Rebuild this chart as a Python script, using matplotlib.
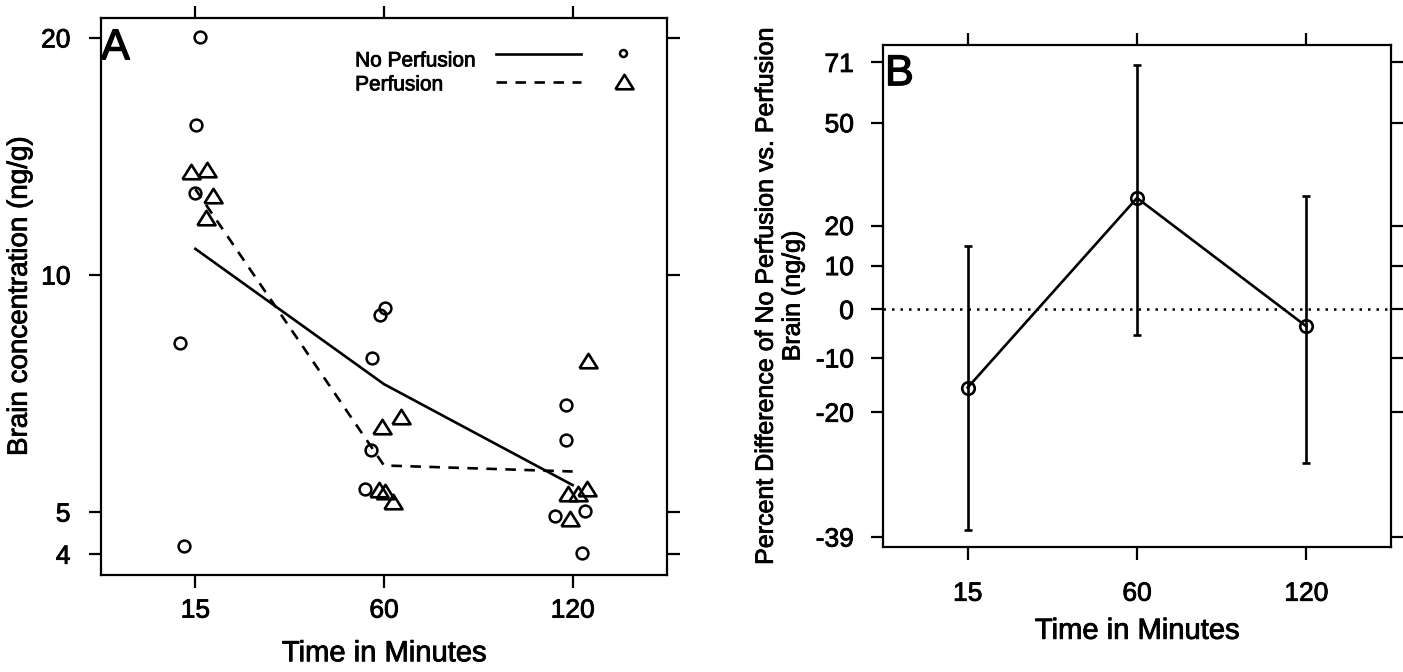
import numpy as np
import matplotlib
matplotlib.use("Agg")
import matplotlib.pyplot as plt
import matplotlib.patheffects as pe

plt.rcParams['font.family'] = ['Liberation Sans', 'DejaVu Sans']

# ---- panel A data (brain concentration, ng/g) ----
time_labels = ["15", "60", "120"]

# no perfusion (circles): group index, jitter, value
np_group = [1, 1, 1, 1, 1, 2, 2, 2, 2, 2, 3, 3, 3, 3, 3]
np_jitter = [0.027, 0.005, 0.0, -0.08, -0.06,
             0.003, -0.02, -0.064, -0.07, -0.10,
             -0.037, -0.037, 0.064, -0.095, 0.048]
np_conc = [20.05, 15.5, 12.7, 8.2, 4.53,
           9.07, 8.9, 7.84, 5.99, 5.35,
           6.84, 6.17, 5.01, 4.95, 4.43]

# perfusion (triangles)
p_group = [1, 1, 1, 1, 2, 2, 2, 2, 2, 3, 3, 3, 3, 3]
p_jitter = [-0.021, 0.064, 0.095, 0.058,
            0.088, -0.013, -0.024, 0.003, 0.05,
            0.08, -0.027, 0.027, 0.074, -0.016]
p_conc = [13.5, 13.6, 12.6, 11.8,
          6.6, 6.41, 5.34, 5.31, 5.15,
          7.77, 5.27, 5.27, 5.35, 4.9]

a_ticks = [4.42, 5, 10, 20]
a_ticklabels = ["4", "5", "10", "20"]

# ---- panel B data (percent difference) ----
b_diff = [-15.6, 27.4, -3.6]
b_lo = [-38.1, -5.4, -28.4]
b_hi = [14.8, 70.0, 28.0]
b_ticks = [-39, -20, -10, 0, 10, 20, 50, 71]


def geo_mean(groups, vals, g):
    v = np.array([x for gg, x in zip(groups, vals) if gg == g])
    return np.exp(np.mean(np.log(v)))


tri = [(-1, -0.75), (1, -0.75), (0, 0.85), (-1, -0.75)]
LW = 1.9
thick = [pe.withStroke(linewidth=0.6, foreground='black')]

fig = plt.figure(figsize=(14.03, 6.72), dpi=100)
W, H = 1403, 672
axA = fig.add_axes([101 / W, 1 - 575 / H, 566 / W, 557 / H])
axB = fig.add_axes([883 / W, 1 - 547 / H, 508 / W, 502 / H])

# ---- panel A ----
xs = np.arange(1, 4)
axA.plot(np.array(np_group) + np.array(np_jitter), np_conc, 'o', ms=8.5,
         mfc='none', mec='black', mew=1.8)
axA.plot(np.array(p_group) + np.array(p_jitter), p_conc, ls='none', marker=tri,
         ms=13, mfc='none', mec='black', mew=1.9)
np_mean = [geo_mean(np_group, np_conc, g) for g in xs]
p_mean = [geo_mean(p_group, p_conc, g) for g in xs]
axA.plot(xs, np_mean, '-', color='black', lw=LW)
axA.plot(xs, p_mean, color='black', lw=LW, ls=(0, (4, 3.2)))

axA.set_yscale('log')
axA.set_ylim(4.16, 21.2)
axA.set_xlim(0.5, 3.5)
axA.set_yticks(a_ticks)
axA.set_yticklabels(a_ticklabels)
axA.yaxis.set_minor_locator(matplotlib.ticker.NullLocator())
axA.set_xticks(xs)
axA.set_xticklabels(time_labels)
axA.set_xlabel("Time in Minutes", fontsize=21, labelpad=12, path_effects=thick)
axA.set_ylabel("Brain concentration (ng/g)", fontsize=20, labelpad=6, path_effects=thick)
axA.text(0.0, 0.926, "A", transform=axA.transAxes, fontsize=31, va='baseline', ha='left',
         path_effects=[pe.withStroke(linewidth=1.0, foreground='black')])

# legend drawn by hand
axA.text(0.449, 0.923, "No Perfusion", transform=axA.transAxes, fontsize=15, va='center',
         path_effects=thick)
axA.text(0.449, 0.880, "Perfusion", transform=axA.transAxes, fontsize=15, va='center',
         path_effects=thick)
axA.plot([0.698, 0.848], [0.935, 0.935], transform=axA.transAxes, color='black', lw=LW)
axA.plot([0.698, 0.848], [0.885, 0.885], transform=axA.transAxes, color='black', lw=LW,
         ls=(0, (4, 3.2)))
axA.plot([0.922], [0.937], 'o', transform=axA.transAxes, ms=5, mfc='none', mec='black', mew=1.8)
axA.plot([0.924], [0.885], ls='none', marker=tri, transform=axA.transAxes, ms=13,
         mfc='none', mec='black', mew=1.9)

# ---- panel B ----
fwd = lambda p: np.log10(1 + np.asarray(p) / 100.0)
inv = lambda t: 100.0 * (10 ** np.asarray(t) - 1)
axB.set_yscale('function', functions=(fwd, inv))
axB.axhline(0, color='black', lw=1.8, ls=(0, (1.0, 2.4)))
yerr = [np.array(b_diff) - np.array(b_lo), np.array(b_hi) - np.array(b_diff)]
axB.errorbar(xs, b_diff, yerr=yerr, fmt='-o', color='black', lw=LW, ms=9,
             mfc='none', mec='black', mew=1.9, capsize=3, capthick=LW, elinewidth=LW)
axB.set_ylim(-40.3, 77.6)
axB.set_xlim(0.5, 3.5)
axB.set_yticks(b_ticks)
axB.set_yticklabels([str(t) for t in b_ticks])
axB.yaxis.set_minor_locator(matplotlib.ticker.NullLocator())
axB.set_xticks(xs)
axB.set_xticklabels(time_labels)
axB.set_xlabel("Time in Minutes", fontsize=21, labelpad=8, path_effects=thick)
axB.set_ylabel("Percent Difference of No Perfusion vs. Perfusion\nBrain (ng/g)",
               fontsize=18, linespacing=1.15, labelpad=8, path_effects=thick)
axB.text(0.004, 0.920, "B", transform=axB.transAxes, fontsize=31, va='baseline', ha='left',
         path_effects=[pe.withStroke(linewidth=1.0, foreground='black')])

for ax in (axA, axB):
    for s in ax.spines.values():
        s.set_linewidth(1.6)
    ax.tick_params(direction='out', length=9, width=1.6, top=True, right=True,
                   labeltop=False, labelright=False, labelsize=19)
    for lab in ax.get_xticklabels() + ax.get_yticklabels():
        lab.set_path_effects(thick)
axA.tick_params(axis='y', pad=13)
axA.tick_params(axis='x', pad=8)
axB.tick_params(axis='y', pad=12)
axB.tick_params(axis='x', pad=16)

fig.savefig("out.png", dpi=100)
